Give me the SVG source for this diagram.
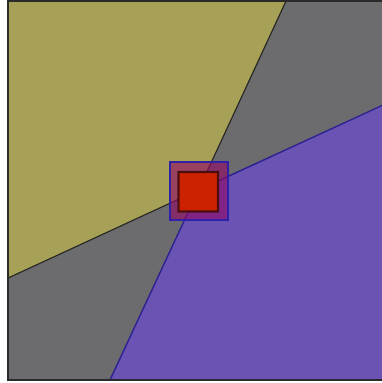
<svg xmlns="http://www.w3.org/2000/svg" width="382" height="383" viewBox="0 0 382 383">
<style>
.frame{fill:#6c6c6e;stroke:#2a2a2a;stroke-width:2}
.yel{fill:#a7a157;stroke:#222;stroke-width:1.2}
.pur{fill:#6b53b4;stroke:#2a2090;stroke-width:1.5}
.outer{fill:#920866;fill-opacity:0.62;stroke:#3020a8;stroke-width:2}
.inner{fill:#cc2200;stroke:#4a0e0e;stroke-width:2.2}
</style>
<rect x="0" y="0" width="382" height="383" fill="#fff"/>
<rect class="frame" x="8" y="1" width="380" height="379"/>
<g id="wedge-yellow"><polygon class="yel" points="8,1 286,1 198.5,190 8,278"/></g>
<g id="wedge-purple"><polygon class="pur" points="198.5,190 383,105 383,380 110,380"/></g>
<g id="marker-outer"><rect class="outer" x="170" y="162" width="58" height="58"/></g>
<g id="marker-inner"><rect class="inner" x="178.5" y="172" width="39.5" height="39.5"/></g>
<rect x="8" y="1" width="380" height="379" fill="none" stroke="#2a2a2a" stroke-width="2"/>
</svg>
